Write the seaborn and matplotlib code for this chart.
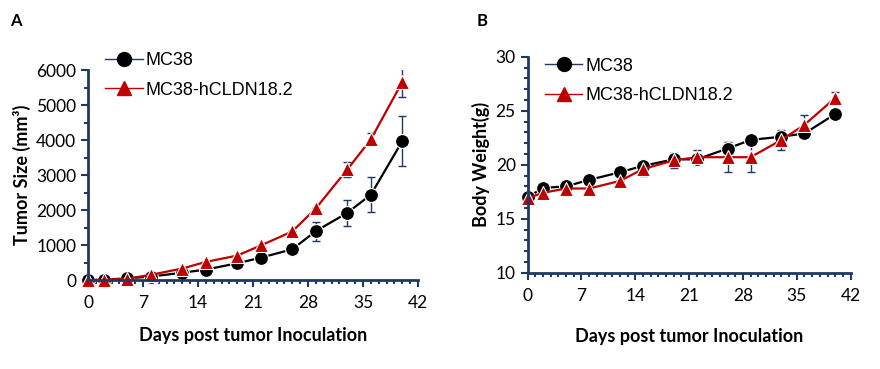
import numpy as np
import pandas as pd
import seaborn as sns
import matplotlib.pyplot as plt
from matplotlib.lines import Line2D
from matplotlib.ticker import MultipleLocator

# Data
days = [0, 2, 5, 8, 12, 15, 19, 22, 26, 29, 33, 36, 40]

tumor_mc38 = [0, 10, 50, 100, 210, 300, 480, 640, 880, 1400, 1920, 2440, 3970]
tumor_mc38_err = [0, 0, 0, 0, 0, 0, 0, 0, 0, 270, 380, 500, 710]
tumor_hcldn = [0, 10, 40, 150, 330, 520, 700, 990, 1390, 2050, 3160, 4020, 5660]
tumor_hcldn_err = [0, 0, 0, 0, 0, 0, 0, 0, 0, 0, 220, 170, 430]

weight_mc38 = [17.0, 17.85, 18.0, 18.6, 19.3, 19.9, 20.5, 20.5, 21.5, 22.3, 22.6, 22.9, 24.7]
weight_mc38_err = [0, 0, 0, 0, 0, 0, 0.3, 0.4, 0.3, 0.3, 0.4, 0.3, 0.4]
weight_hcldn = [16.9, 17.4, 17.8, 17.8, 18.5, 19.6, 20.4, 20.7, 20.7, 20.7, 22.3, 23.7, 26.2]
weight_hcldn_err = [0, 0, 0, 0, 0, 0.6, 0.7, 0.7, 1.4, 1.4, 0.9, 0.9, 0.5]

groups = ['MC38', 'MC38-hCLDN18.2']
colors = {'MC38': 'black', 'MC38-hCLDN18.2': '#C00000'}
markers = {'MC38': 'o', 'MC38-hCLDN18.2': '^'}
navy = '#1F3864'

plt.rcParams['font.family'] = ['Lato', 'DejaVu Sans']

fig = plt.figure(figsize=(8.8, 3.69), dpi=100)
axA = fig.add_axes([0.1, 0.241, 0.375, 0.569])
axB = fig.add_axes([0.5996, 0.261, 0.367, 0.585])


def panel(ax, y1, e1, y2, e2, ylim, major, minor, ylabel, leg_y, xpad):
    df = pd.DataFrame({
        'day': days * 2,
        'value': y1 + y2,
        'group': [groups[0]] * len(days) + [groups[1]] * len(days),
    })
    sns.lineplot(data=df, x='day', y='value', hue='group', style='group',
                 palette=colors, markers=markers, dashes=False, ax=ax,
                 markersize=10, linewidth=1.6, markeredgewidth=0.8,
                 legend=False, zorder=3)
    for ln in ax.lines:
        ln.set_clip_on(False)
    for y, e in [(y1, e1), (y2, e2)]:
        ax.errorbar(days, y, yerr=e, fmt='none', ecolor=navy, elinewidth=1,
                    capsize=3, capthick=1, zorder=2)
    ax.set_xlim(0, 42)
    ax.set_ylim(*ylim)
    ax.xaxis.set_major_locator(MultipleLocator(7))
    ax.xaxis.set_minor_locator(MultipleLocator(1))
    ax.yaxis.set_major_locator(MultipleLocator(major))
    ax.yaxis.set_minor_locator(MultipleLocator(minor))
    for s in ['top', 'right']:
        ax.spines[s].set_visible(False)
    for s in ['left', 'bottom']:
        ax.spines[s].set_color(navy)
        ax.spines[s].set_linewidth(2)
    ax.tick_params(axis='both', which='major', color=navy, width=1.5, length=5,
                   labelsize=12.5, labelcolor='black')
    ax.tick_params(axis='both', which='minor', color=navy, width=1.5, length=3)
    ax.tick_params(axis='x', which='major', pad=6)
    ax.set_xlabel('Days post tumor Inoculation', fontsize=13, fontweight='bold',
                  labelpad=xpad)
    ax.set_ylabel(ylabel, fontsize=13, fontweight='bold')
    for sp in ax.spines.values():
        sp.set_zorder(4)
    handles = [
        Line2D([], [], color=navy, lw=1, marker='o', markersize=10,
               markerfacecolor='black', markeredgecolor='black'),
        Line2D([], [], color='#C00000', lw=1, marker='^', markersize=10,
               markerfacecolor='#C00000', markeredgecolor='#C00000'),
    ]
    ax.legend(handles, groups, loc='upper left', bbox_to_anchor=(0.03, leg_y),
              frameon=False, handlelength=2.1, handletextpad=0.15,
              labelspacing=0.7, borderaxespad=0,
              prop={'family': 'Liberation Sans', 'size': 13})


panel(axA, tumor_mc38, tumor_mc38_err, tumor_hcldn, tumor_hcldn_err,
      (0, 6000), 1000, 500, 'Tumor Size (mm³)', 1.12, 11)
panel(axB, weight_mc38, weight_mc38_err, weight_hcldn, weight_hcldn_err,
      (10, 30), 5, 1, 'Body Weight(g)', 1.03, 17)

fig.text(0.012, 0.93, 'A', fontsize=12, fontweight='bold')
fig.text(0.542, 0.93, 'B', fontsize=12, fontweight='bold')

plt.savefig('out.png', dpi=100)
